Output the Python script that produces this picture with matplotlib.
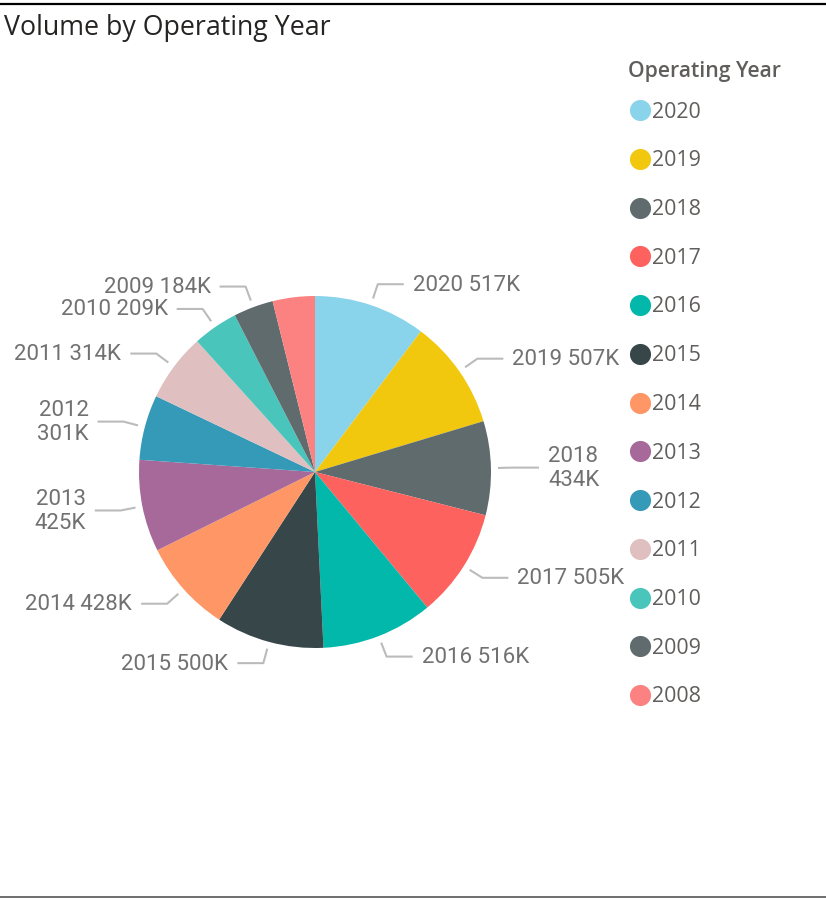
import numpy as np
import matplotlib
matplotlib.use("Agg")
import matplotlib.pyplot as plt

# ---- data ----
years = ["2020", "2019", "2018", "2017", "2016", "2015", "2014",
         "2013", "2012", "2011", "2010", "2009", "2008"]
volume_k = [517, 507, 434, 505, 516, 500, 428, 425, 301, 314, 209, 184, 195]
slice_labels = ["2020 517K", "2019 507K", "2018\n434K", "2017 505K", "2016 516K",
                "2015 500K", "2014 428K", "2013\n425K", "2012\n301K", "2011 314K",
                "2010 209K", "2009 184K", ""]
colors = ["#8AD4EB", "#F2C80F", "#5F6B6D", "#FD625E", "#01B8AA", "#374649",
          "#FE9666", "#A66999", "#3599B8", "#DFBFBF", "#4AC5BB", "#5F6B6D", "#FB8281"]
title = "Volume by Operating Year"
legend_title = "Operating Year"

W, H = 826, 898
fig = plt.figure(figsize=(W / 100, H / 100), dpi=100)
ax = fig.add_axes([0, 0, 1, 1])

cx, cy, R = 315, H - 472, 176
wedges, _ = ax.pie(volume_k, colors=colors, startangle=90, counterclock=False,
                   center=(cx, cy), radius=R, frame=True,
                   wedgeprops=dict(linewidth=0))
ax.set_xlim(0, W)
ax.set_ylim(0, H)
ax.set_aspect("equal")
ax.axis("off")

label_font = dict(family=["Roboto", "DejaVu Sans"], fontsize=16, color="#717171")
lead_col = "#BBBBBB"
for w, lab in zip(wedges, slice_labels):
    if not lab:
        continue
    a = np.deg2rad((w.theta1 + w.theta2) / 2)
    ca, sa = np.cos(a), np.sin(a)
    p0 = (cx + (R + 7) * ca, cy + (R + 7) * sa)
    p1 = (cx + (R + 22) * ca, cy + (R + 22) * sa)
    s = 1 if ca >= 0 else -1
    p2 = (p1[0] + s * 26, p1[1])
    ax.plot([p0[0], p1[0], p2[0]], [p0[1], p1[1], p2[1]], color=lead_col, lw=1.5,
            solid_capstyle="butt")
    ax.text(p2[0] + s * 9, p2[1] - 1, lab, ha="left" if s > 0 else "right", va="center",
            linespacing=1.2, **label_font)

# title
ax.text(4, H - 28, title, ha="left", va="center", fontsize=19.3,
        family=["Open Sans", "DejaVu Sans"], color="#252423")

# legend
ax.text(628, H - 72, legend_title, ha="left", va="center", fontsize=15.2,
        family=["Open Sans", "DejaVu Sans"], fontweight="semibold", color="#605E5C")
for i, (yr, c) in enumerate(zip(years, colors)):
    yy = H - (110 + i * 48.75)
    ax.scatter([640], [yy], s=15.2 ** 2, color=c, marker="o", linewidths=0, zorder=3)
    ax.text(652, yy - 2, yr, ha="left", va="center", fontsize=15.4,
            family=["Open Sans", "DejaVu Sans"], color="#605E5C")

# borders
ax.plot([0, W], [H - 3.5, H - 3.5], color="black", lw=1.6, solid_capstyle="butt")
ax.plot([0, W], [H - 897, H - 897], color="#555555", lw=1.2, solid_capstyle="butt")

fig.savefig("out.png", dpi=100)
